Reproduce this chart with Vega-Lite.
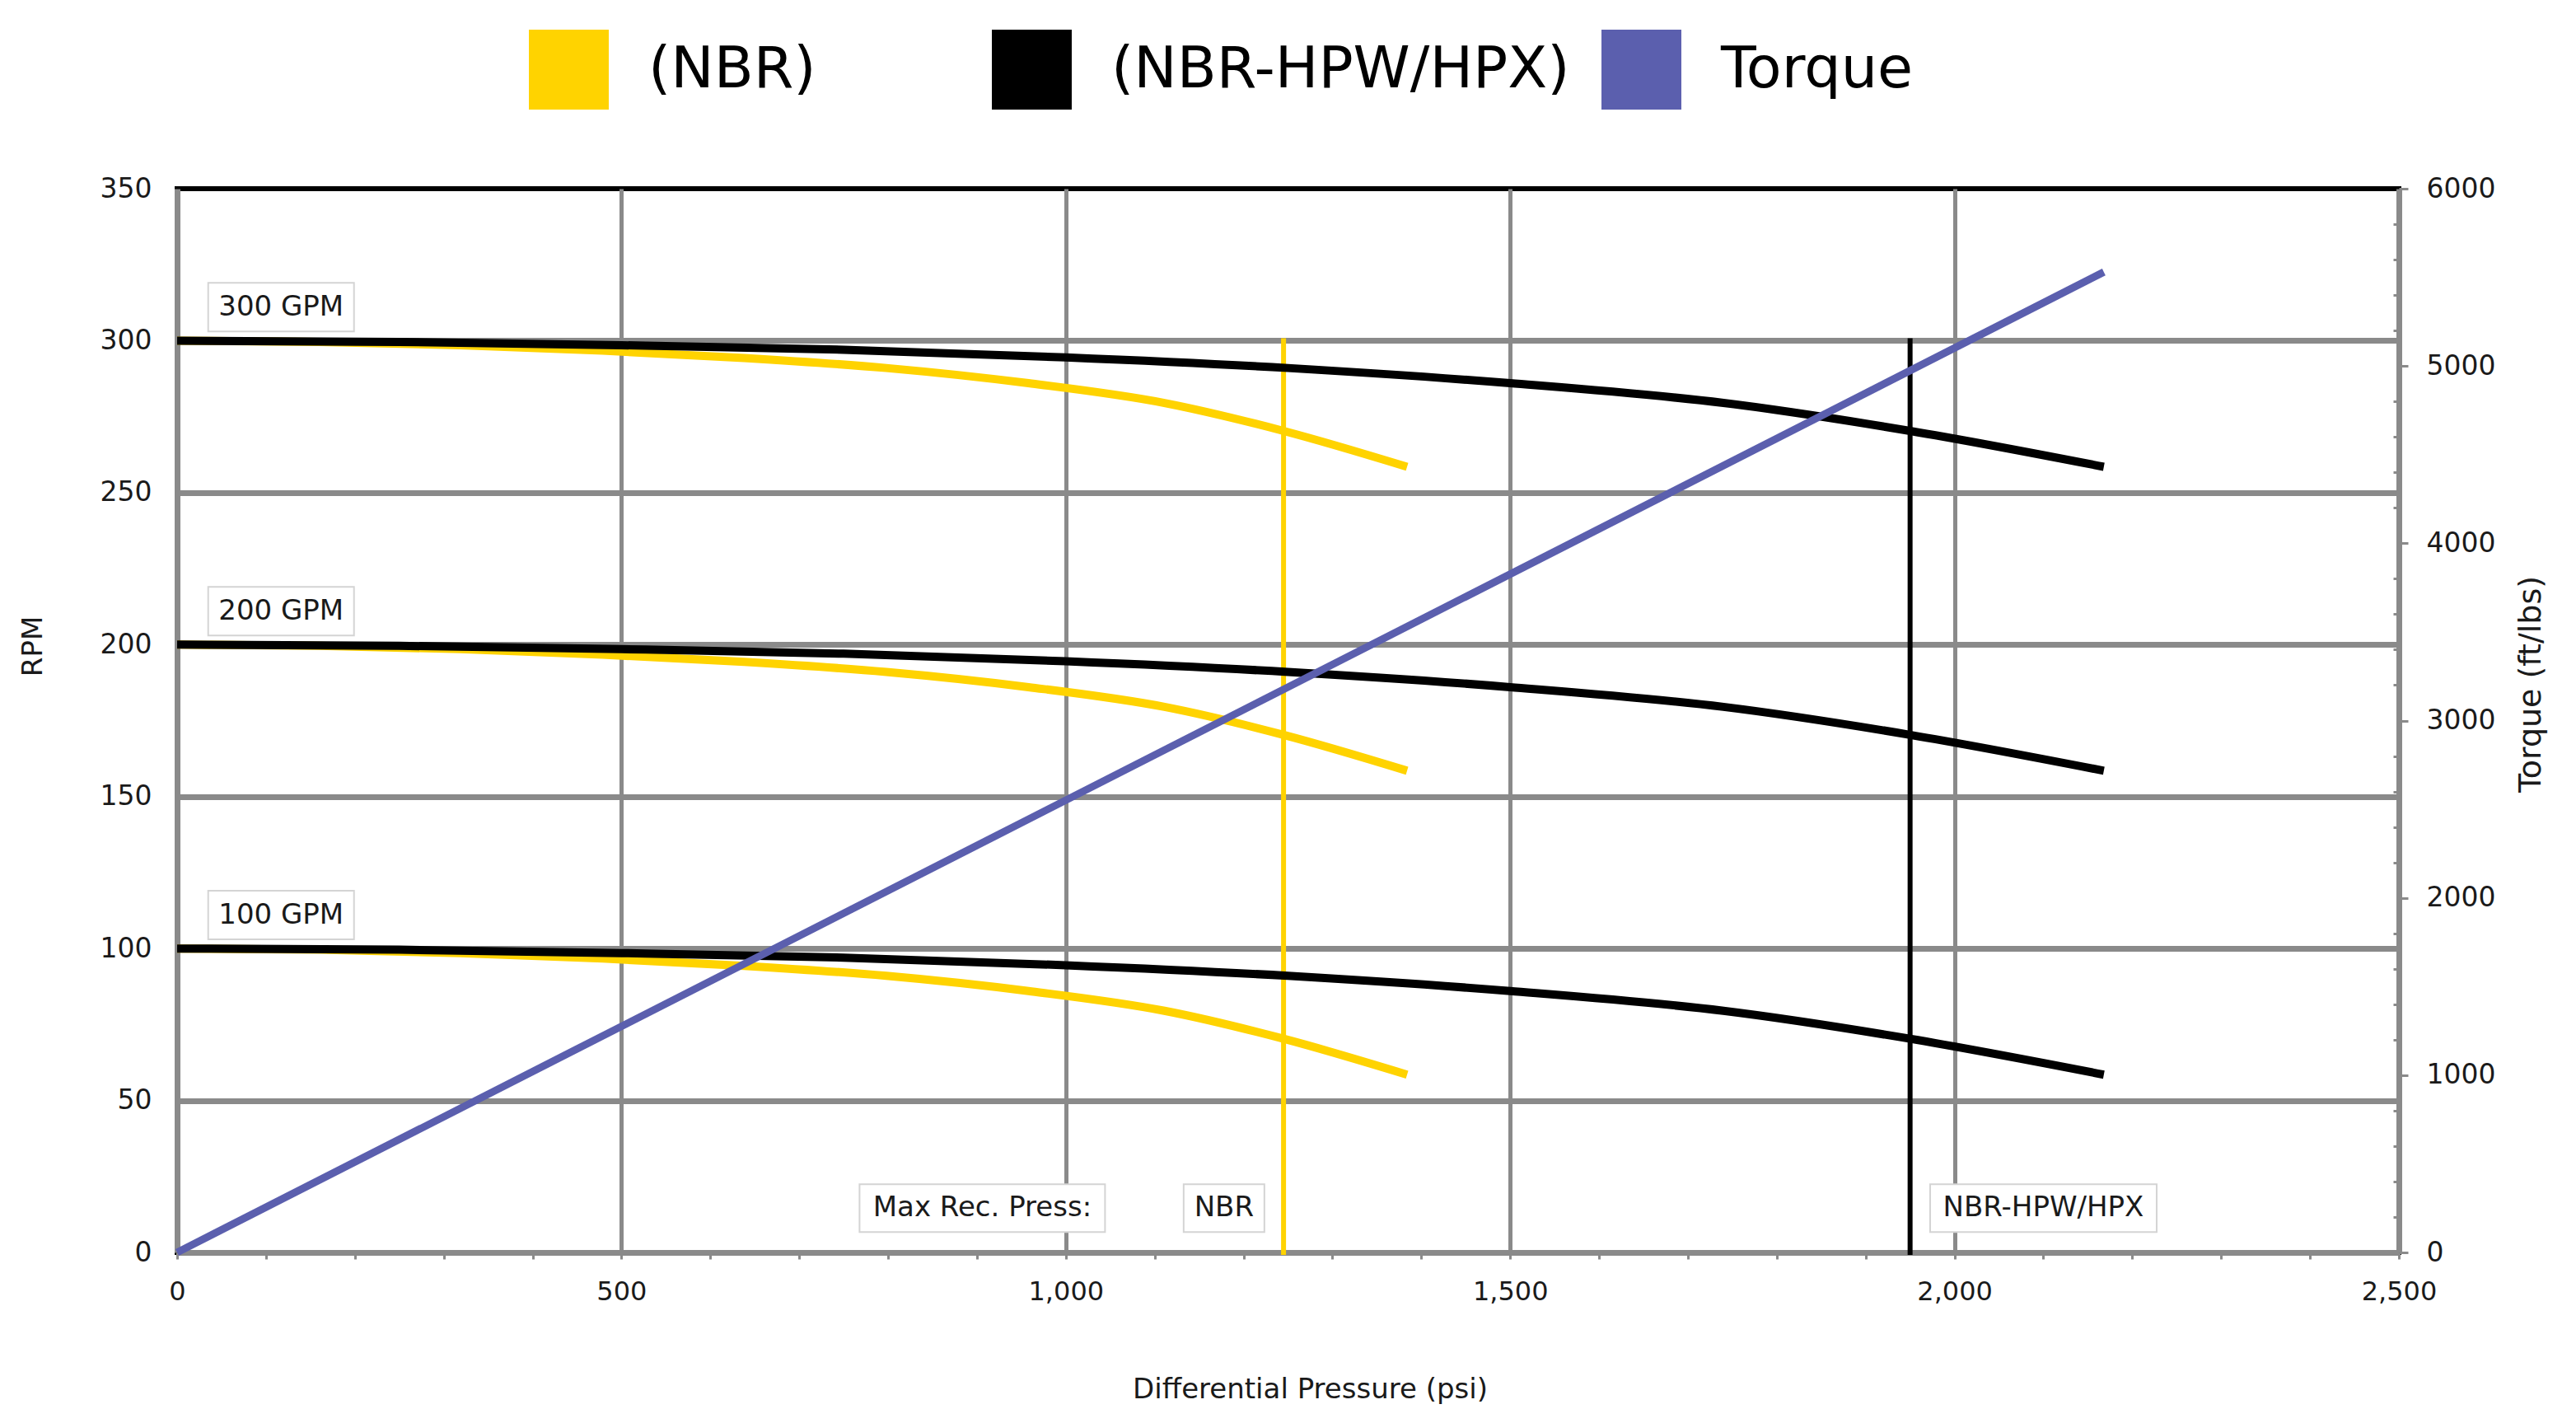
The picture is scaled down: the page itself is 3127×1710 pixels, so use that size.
{
  "$schema": "https://vega.github.io/schema/vega-lite/v6.json",
  "width": 2697,
  "height": 1291,
  "autosize": {"type": "none"},
  "padding": {"left": 215, "top": 229, "right": 215, "bottom": 190},
  "background": "white",
  "config": {
    "view": {"stroke": "#000000", "strokeWidth": 6},
    "font": "DejaVu Sans",
    "axis": {"labelFont": "DejaVu Sans", "titleFont": "DejaVu Sans", "labelColor": "#1a1a1a", "titleColor": "#1a1a1a", "titleFontWeight": "normal", "domainColor": "#8a8a8a", "domainWidth": 7, "tickColor": "#8a8a8a", "gridColor": "#8a8a8a"},
    "legend": {"title": null, "orient": "none", "direction": "horizontal", "symbolType": "square", "symbolSize": 9400, "symbolStrokeWidth": 0, "labelFontSize": 70, "labelFont": "DejaVu Sans", "labelColor": "#000000", "labelOffset": 48, "columnPadding": 38, "labelLimit": 1000}
  },
  "datasets": {
    "curves": [
      {"series": "(NBR-HPW/HPX)", "gpm": 300, "psi": 0, "rpm": 300},
      {"series": "(NBR-HPW/HPX)", "gpm": 300, "psi": 250, "rpm": 299.6},
      {"series": "(NBR-HPW/HPX)", "gpm": 300, "psi": 500, "rpm": 298.5},
      {"series": "(NBR-HPW/HPX)", "gpm": 300, "psi": 750, "rpm": 297.0},
      {"series": "(NBR-HPW/HPX)", "gpm": 300, "psi": 1000, "rpm": 294.5},
      {"series": "(NBR-HPW/HPX)", "gpm": 300, "psi": 1250, "rpm": 291.0},
      {"series": "(NBR-HPW/HPX)", "gpm": 300, "psi": 1500, "rpm": 286.0},
      {"series": "(NBR-HPW/HPX)", "gpm": 300, "psi": 1740, "rpm": 279.5},
      {"series": "(NBR-HPW/HPX)", "gpm": 300, "psi": 1950, "rpm": 270.3},
      {"series": "(NBR-HPW/HPX)", "gpm": 300, "psi": 2168, "rpm": 258.5},
      {"series": "(NBR-HPW/HPX)", "gpm": 200, "psi": 0, "rpm": 200},
      {"series": "(NBR-HPW/HPX)", "gpm": 200, "psi": 250, "rpm": 199.6},
      {"series": "(NBR-HPW/HPX)", "gpm": 200, "psi": 500, "rpm": 198.5},
      {"series": "(NBR-HPW/HPX)", "gpm": 200, "psi": 750, "rpm": 197.0},
      {"series": "(NBR-HPW/HPX)", "gpm": 200, "psi": 1000, "rpm": 194.5},
      {"series": "(NBR-HPW/HPX)", "gpm": 200, "psi": 1250, "rpm": 191.0},
      {"series": "(NBR-HPW/HPX)", "gpm": 200, "psi": 1500, "rpm": 186.0},
      {"series": "(NBR-HPW/HPX)", "gpm": 200, "psi": 1740, "rpm": 179.5},
      {"series": "(NBR-HPW/HPX)", "gpm": 200, "psi": 1950, "rpm": 170.3},
      {"series": "(NBR-HPW/HPX)", "gpm": 200, "psi": 2168, "rpm": 158.5},
      {"series": "(NBR-HPW/HPX)", "gpm": 100, "psi": 0, "rpm": 100},
      {"series": "(NBR-HPW/HPX)", "gpm": 100, "psi": 250, "rpm": 99.6},
      {"series": "(NBR-HPW/HPX)", "gpm": 100, "psi": 500, "rpm": 98.5},
      {"series": "(NBR-HPW/HPX)", "gpm": 100, "psi": 750, "rpm": 97.0},
      {"series": "(NBR-HPW/HPX)", "gpm": 100, "psi": 1000, "rpm": 94.5},
      {"series": "(NBR-HPW/HPX)", "gpm": 100, "psi": 1250, "rpm": 91.0},
      {"series": "(NBR-HPW/HPX)", "gpm": 100, "psi": 1500, "rpm": 86.0},
      {"series": "(NBR-HPW/HPX)", "gpm": 100, "psi": 1740, "rpm": 79.5},
      {"series": "(NBR-HPW/HPX)", "gpm": 100, "psi": 1950, "rpm": 70.3},
      {"series": "(NBR-HPW/HPX)", "gpm": 100, "psi": 2168, "rpm": 58.5},
      {"series": "(NBR)", "gpm": 300, "psi": 0, "rpm": 300},
      {"series": "(NBR)", "gpm": 300, "psi": 160, "rpm": 299.6},
      {"series": "(NBR)", "gpm": 300, "psi": 319, "rpm": 298.5},
      {"series": "(NBR)", "gpm": 300, "psi": 479, "rpm": 296.7},
      {"series": "(NBR)", "gpm": 300, "psi": 638, "rpm": 294.3},
      {"series": "(NBR)", "gpm": 300, "psi": 798, "rpm": 291.0},
      {"series": "(NBR)", "gpm": 300, "psi": 958, "rpm": 286.0},
      {"series": "(NBR)", "gpm": 300, "psi": 1111, "rpm": 279.5},
      {"series": "(NBR)", "gpm": 300, "psi": 1245, "rpm": 270.3},
      {"series": "(NBR)", "gpm": 300, "psi": 1384, "rpm": 258.5},
      {"series": "(NBR)", "gpm": 200, "psi": 0, "rpm": 200},
      {"series": "(NBR)", "gpm": 200, "psi": 160, "rpm": 199.6},
      {"series": "(NBR)", "gpm": 200, "psi": 319, "rpm": 198.5},
      {"series": "(NBR)", "gpm": 200, "psi": 479, "rpm": 196.7},
      {"series": "(NBR)", "gpm": 200, "psi": 638, "rpm": 194.3},
      {"series": "(NBR)", "gpm": 200, "psi": 798, "rpm": 191.0},
      {"series": "(NBR)", "gpm": 200, "psi": 958, "rpm": 186.0},
      {"series": "(NBR)", "gpm": 200, "psi": 1111, "rpm": 179.5},
      {"series": "(NBR)", "gpm": 200, "psi": 1245, "rpm": 170.3},
      {"series": "(NBR)", "gpm": 200, "psi": 1384, "rpm": 158.5},
      {"series": "(NBR)", "gpm": 100, "psi": 0, "rpm": 100},
      {"series": "(NBR)", "gpm": 100, "psi": 160, "rpm": 99.6},
      {"series": "(NBR)", "gpm": 100, "psi": 319, "rpm": 98.5},
      {"series": "(NBR)", "gpm": 100, "psi": 479, "rpm": 96.7},
      {"series": "(NBR)", "gpm": 100, "psi": 638, "rpm": 94.3},
      {"series": "(NBR)", "gpm": 100, "psi": 798, "rpm": 91.0},
      {"series": "(NBR)", "gpm": 100, "psi": 958, "rpm": 86.0},
      {"series": "(NBR)", "gpm": 100, "psi": 1111, "rpm": 79.5},
      {"series": "(NBR)", "gpm": 100, "psi": 1245, "rpm": 70.3},
      {"series": "(NBR)", "gpm": 100, "psi": 1384, "rpm": 58.5}
    ],
    "limits": [
      {"series": "(NBR)", "psi": 1245, "rpm": 0},
      {"series": "(NBR)", "psi": 1245, "rpm": 300},
      {"series": "(NBR-HPW/HPX)", "psi": 1950, "rpm": 0},
      {"series": "(NBR-HPW/HPX)", "psi": 1950, "rpm": 300}
    ],
    "labels": [
      {"label": "300 GPM", "psi": 117, "rpm": 311},
      {"label": "200 GPM", "psi": 117, "rpm": 211},
      {"label": "100 GPM", "psi": 117, "rpm": 111},
      {"label": "Max Rec. Press:", "psi": 906, "rpm": 14.6},
      {"label": "NBR", "psi": 1178, "rpm": 14.6},
      {"label": "NBR-HPW/HPX", "psi": 2100, "rpm": 14.6}
    ],
    "torque": [
      {"series": "Torque", "psi": 0, "torque": 0},
      {"series": "Torque", "psi": 2168, "torque": 5530}
    ]
  },
  "encoding": {
    "x": {
      "field": "psi", "type": "quantitative", "title": "Differential Pressure (psi)",
      "scale": {"domain": [0, 2500], "nice": false, "zero": false},
      "axis": {
        "values": [0,100,200,300,400,500,600,700,800,900,1000,1100,1200,1300,1400,1500,1600,1700,1800,1900,2000,2100,2200,2300,2400,2500],
        "labelExpr": "datum.value % 500 === 0 ? format(datum.value, ',') : ''",
        "labelOverlap": false, "labelFlush": false, "labelFontSize": 32, "labelPadding": 24,
        "ticks": true, "tickSize": 8, "tickWidth": 3,
        "grid": true, "gridWidth": 5,
        "gridOpacity": {"condition": {"test": "datum.value % 500 === 0 && datum.value > 0 && datum.value < 2500", "value": 1}, "value": 0},
        "titleFontSize": 34, "titleX": 1375, "titleY": 166, "titleBaseline": "middle", "titleAlign": "center"
      }
    }
  },
  "layer": [
    {
      "encoding": {
        "y": {
          "field": "rpm", "type": "quantitative", "title": "RPM",
          "scale": {"domain": [0, 350], "nice": false},
          "axis": {
            "values": [0,50,100,150,200,250,300,350],
            "ticks": false, "labelPadding": 31, "labelFontSize": 33,
            "grid": true, "gridWidth": 7,
            "gridOpacity": {"condition": {"test": "datum.value > 0 && datum.value < 350", "value": 1}, "value": 0},
            "titleFontSize": 34, "titleAngle": 270, "titleX": -175, "titleY": 555, "titleBaseline": "middle", "titleAlign": "center"
          }
        }
      },
      "layer": [
        {
          "data": {"name": "limits"},
          "transform": [{"filter": "datum.series === '(NBR)'"}],
          "mark": {"type": "line", "strokeWidth": 6, "strokeCap": "square"},
          "encoding": {
            "order": {"field": "rpm", "type": "quantitative"},
            "color": {"field": "series", "type": "nominal",
              "scale": {"domain": ["(NBR)"], "range": ["#FFD300"]},
              "legend": {
                "legendX": 427, "legendY": -193,
                "encode": {"symbols": {"update": {"fill": {"scale": "color", "field": "value"}, "stroke": {"value": "transparent"}, "shape": {"value": "square"}, "size": {"value": 9400}, "opacity": {"value": 1}, "fillOpacity": {"value": 1}}}}
              }
            }
          }
        },
        {
          "data": {"name": "limits"},
          "transform": [{"filter": "datum.series === '(NBR-HPW/HPX)'"}],
          "mark": {"type": "line", "strokeWidth": 6, "strokeCap": "square"},
          "encoding": {
            "order": {"field": "rpm", "type": "quantitative"},
            "stroke": {"field": "series", "type": "nominal",
              "scale": {"domain": ["(NBR-HPW/HPX)", "Torque"], "range": ["#000000", "#5B5FAE"]},
              "legend": {
                "legendX": 989, "legendY": -193,
                "encode": {"symbols": {"update": {"fill": {"scale": "stroke", "field": "value"}, "stroke": {"value": "transparent"}, "shape": {"value": "square"}, "size": {"value": 9400}, "opacity": {"value": 1}, "fillOpacity": {"value": 1}}}}
              }
            }
          }
        },
        {
          "data": {"name": "curves"},
          "transform": [{"filter": "datum.series === '(NBR)'"}],
          "mark": {"type": "line", "strokeWidth": 10, "interpolate": "monotone", "strokeCap": "butt"},
          "encoding": {
            "detail": {"field": "gpm", "type": "nominal"},
            "color": {"field": "series", "type": "nominal", "scale": {"domain": ["(NBR)"], "range": ["#FFD300"]}}
          }
        },
        {
          "data": {"name": "curves"},
          "transform": [{"filter": "datum.series === '(NBR-HPW/HPX)'"}],
          "mark": {"type": "line", "strokeWidth": 10, "interpolate": "monotone", "strokeCap": "butt"},
          "encoding": {
            "detail": {"field": "gpm", "type": "nominal"},
            "stroke": {"field": "series", "type": "nominal", "scale": {"domain": ["(NBR-HPW/HPX)", "Torque"], "range": ["#000000", "#5B5FAE"]}}
          }
        },
        {
          "data": {"name": "labels"},
          "mark": {"type": "point", "filled": true, "fill": "#ffffff", "stroke": "#d4d4d4", "strokeWidth": 2, "size": 10000, "opacity": 1},
          "encoding": {
            "shape": {"field": "label", "type": "nominal", "legend": null,
              "scale": {
                "domain": ["300 GPM", "200 GPM", "100 GPM", "Max Rec. Press:", "NBR", "NBR-HPW/HPX"],
                "range": [
                  "M-1.77,-0.59L1.77,-0.59L1.77,0.59L-1.77,0.59Z",
                  "M-1.77,-0.59L1.77,-0.59L1.77,0.59L-1.77,0.59Z",
                  "M-1.77,-0.59L1.77,-0.59L1.77,0.59L-1.77,0.59Z",
                  "M-2.98,-0.58L2.98,-0.58L2.98,0.58L-2.98,0.58Z",
                  "M-0.98,-0.58L0.98,-0.58L0.98,0.58L-0.98,0.58Z",
                  "M-2.75,-0.58L2.75,-0.58L2.75,0.58L-2.75,0.58Z"
                ]
              }
            }
          }
        },
        {
          "data": {"name": "labels"},
          "mark": {"type": "text", "fontSize": 34, "font": "DejaVu Sans", "color": "#1a1a1a", "align": "center", "baseline": "middle"},
          "encoding": {"text": {"field": "label", "type": "nominal"}}
        }
      ]
    },
    {
      "data": {"name": "torque"},
      "mark": {"type": "line", "strokeWidth": 9, "strokeCap": "butt"},
      "encoding": {
        "y": {
          "field": "torque", "type": "quantitative", "title": "Torque (ft/lbs)",
          "scale": {"domain": [0, 6000], "nice": false},
          "axis": {
            "orient": "right",
            "values": [0,200,400,600,800,1000,1200,1400,1600,1800,2000,2200,2400,2600,2800,3000,3200,3400,3600,3800,4000,4200,4400,4600,4800,5000,5200,5400,5600,5800,6000],
            "labelExpr": "datum.value % 1000 === 0 ? datum.value : ''",
            "labelOverlap": false, "labelFlush": false, "labelFontSize": 33, "labelPadding": 22,
            "grid": false, "ticks": true, "tickWidth": 3,
            "tickSize": {"condition": {"test": "datum.value % 1000 === 0", "value": 11}, "value": -7},
            "titleFontSize": 38, "titleAngle": 270, "titleX": 160, "titleY": 601, "titleBaseline": "middle", "titleAlign": "center"
          }
        },
        "stroke": {"field": "series", "type": "nominal", "scale": {"domain": ["(NBR-HPW/HPX)", "Torque"], "range": ["#000000", "#5B5FAE"]}}
      }
    }
  ],
  "resolve": {"scale": {"y": "independent"}}
}
